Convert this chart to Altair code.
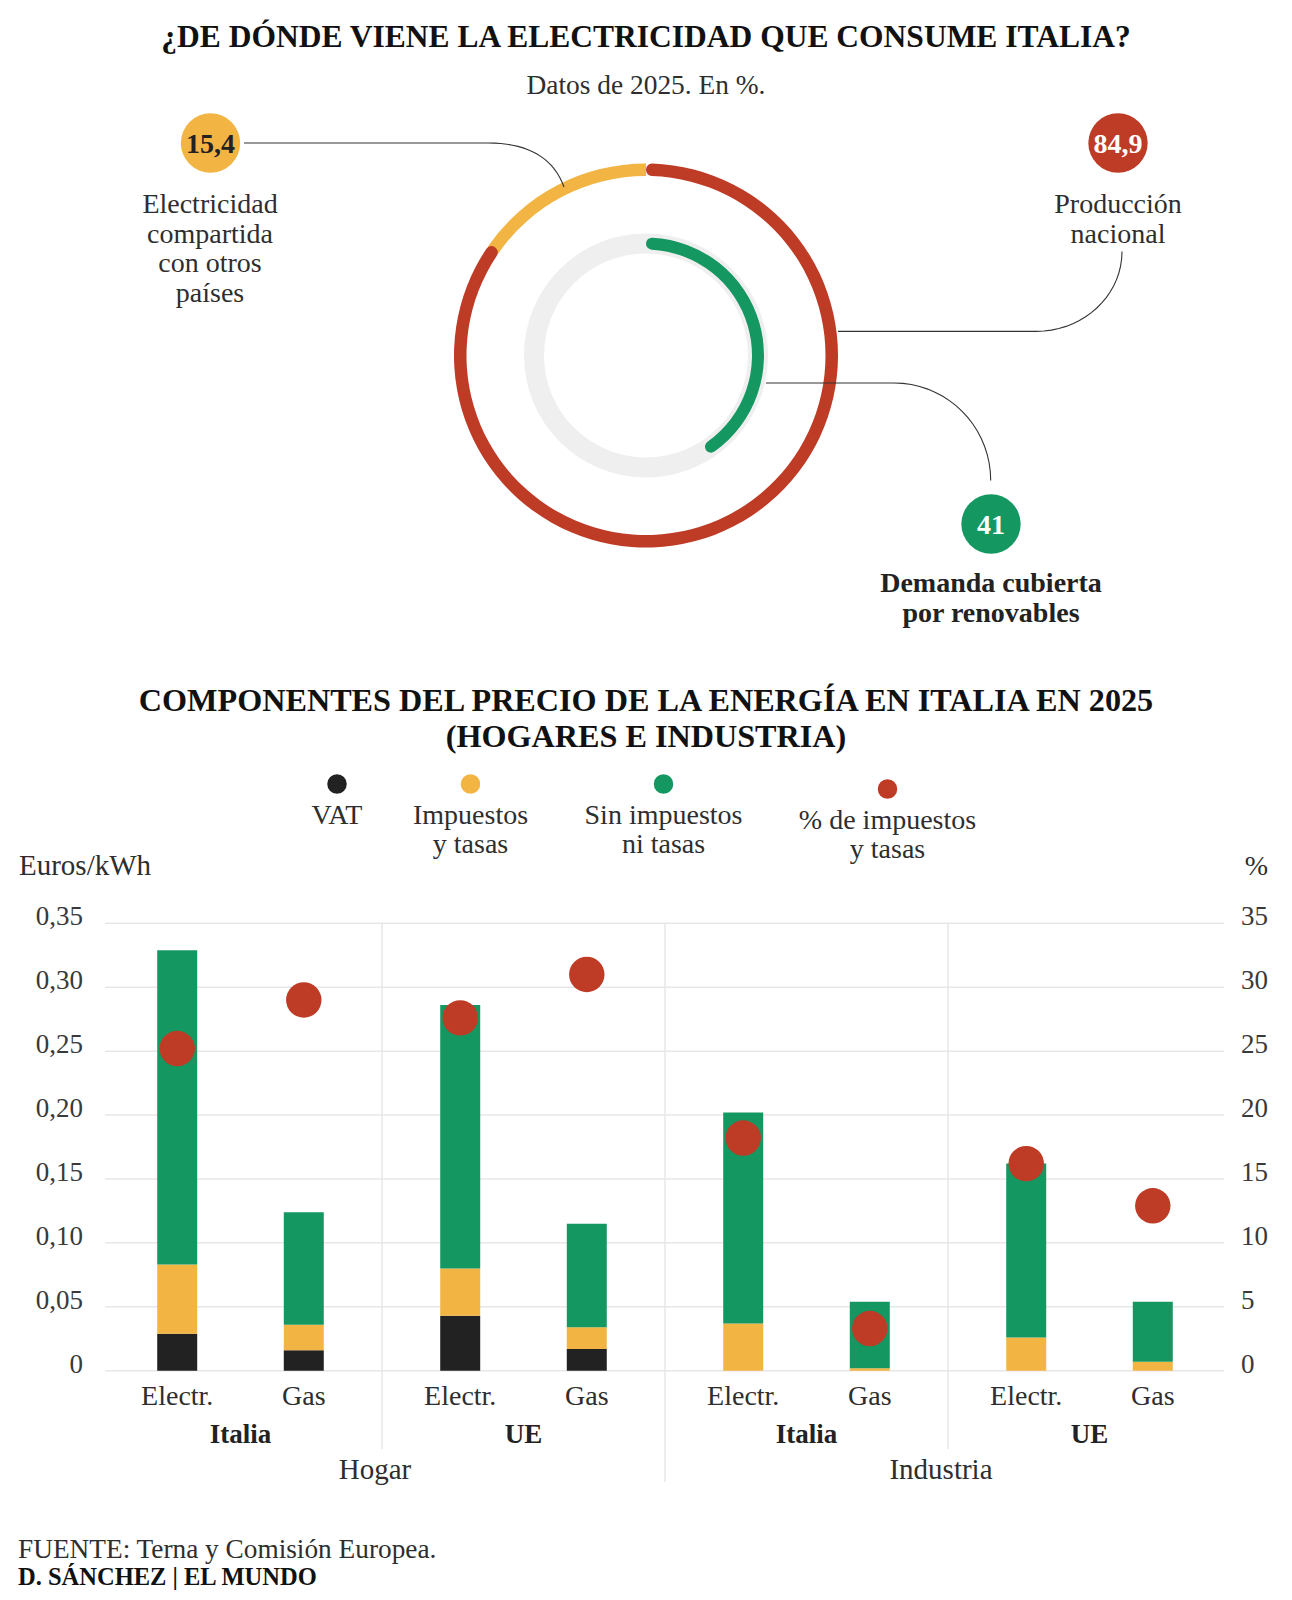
import math
import altair as alt
import pandas as pd

# ------------------------------------------------------------------ data
# Donut (top)
produccion_nacional = 84.9
electricidad_compartida = 15.4
demanda_renovables = 41

# Stacked bars (bottom): order Hogar-Italia, Hogar-UE, Industria-Italia, Industria-UE; each Electr., Gas
sectores = ["Hogar", "Hogar", "Industria", "Industria"]
regiones = ["Italia", "UE", "Italia", "UE"]
tipos = ["Electr.", "Gas"]
vat = [0.029, 0.016, 0.043, 0.017, 0.0, 0.0, 0.0, 0.0]
impuestos_tasas = [0.054, 0.020, 0.037, 0.017, 0.037, 0.002, 0.026, 0.007]
sin_impuestos = [0.246, 0.088, 0.206, 0.081, 0.165, 0.052, 0.136, 0.047]
pct_impuestos = [25.2, 29.0, 27.6, 31.0, 18.2, 3.3, 16.2, 12.9]
ticks_eur = [0, 0.05, 0.10, 0.15, 0.20, 0.25, 0.30, 0.35]
ticks_pct = [0, 5, 10, 15, 20, 25, 30, 35]
componentes = ["VAT", "Impuestos y tasas", "Sin impuestos ni tasas"]
leyenda = ["VAT", "Impuestos\ny tasas", "Sin impuestos\nni tasas", "% de impuestos\ny tasas"]

# ------------------------------------------------------------------ style
FONT = "Liberation Serif"
RED = "#be3b26"
YEL = "#f2b544"
GRN = "#159762"
BLK = "#222222"
GREY = "#efefef"
TXT = "#2e2e2e"
CX, CY = 646, 355.5


def fmt(v, dec=1):
    if float(v).is_integer():
        return str(int(v))
    return f"{v:.{dec}f}".replace(".", ",")


def txt(s, x, y, size=27, bold=False, align="center", color=TXT, lh=None):
    kw = dict(font=FONT, fontSize=size, fontWeight="bold" if bold else "normal",
              align=align, baseline="alphabetic", color=color)
    if "\n" in s:
        kw.update(lineBreak="\n", lineHeight=lh or round(size * 1.08))
    return alt.Chart(pd.DataFrame({"t": [s]})).mark_text(**kw).encode(
        x=alt.value(x), y=alt.value(y), text="t:N")


def ring(t0, t1, r_out, r_in, color, corner=0):
    df = pd.DataFrame({"t0": [t0], "t1": [t1]})
    return alt.Chart(df).mark_arc(radius=r_out, radius2=r_in, cornerRadius=corner,
                                  color=color, opacity=1).encode(
        theta=alt.Theta("t0:Q", scale=alt.Scale(domain=[0, 100]), stack=False),
        theta2="t1:Q", x=alt.value(CX), y=alt.value(CY))


def bubble(v, x, y, color, tcolor, r=33.5):
    df = pd.DataFrame({"t": [fmt(v)]})
    c = alt.Chart(df).mark_circle(size=math.pi * r * r, color=color, opacity=1).encode(
        x=alt.value(x), y=alt.value(y))
    t = alt.Chart(df).mark_text(font=FONT, fontSize=28, fontWeight="bold", color=tcolor,
                                align="center", baseline="alphabetic").encode(
        x=alt.value(x), y=alt.value(y + 9.5), text="t:N")
    return [c, t]


def qbez(p0, c, p1, n=18):
    return [((1 - t) ** 2 * p0[0] + 2 * (1 - t) * t * c[0] + t ** 2 * p1[0],
             (1 - t) ** 2 * p0[1] + 2 * (1 - t) * t * c[1] + t ** 2 * p1[1])
            for t in [i / n for i in range(n + 1)]]


def corner(p0, c, p1, n=18, k=0.552):
    a = (p0[0] + k * (c[0] - p0[0]), p0[1] + k * (c[1] - p0[1]))
    b = (p1[0] + k * (c[0] - p1[0]), p1[1] + k * (c[1] - p1[1]))
    out = []
    for i in range(n + 1):
        t = i / n
        u = 1 - t
        out.append((u ** 3 * p0[0] + 3 * u * u * t * a[0] + 3 * u * t * t * b[0] + t ** 3 * p1[0],
                    u ** 3 * p0[1] + 3 * u * u * t * a[1] + 3 * u * t * t * b[1] + t ** 3 * p1[1]))
    return out


layers = []

# ------------------------------------------------------------------ top: titles
layers.append(txt("¿DE DÓNDE VIENE LA ELECTRICIDAD QUE CONSUME ITALIA?", 646, 46.5, 31.5, True, color="#111"))
layers.append(txt("Datos de 2025. En %.", 646, 94, 27.4))

# rings
layers.append(ring(0, 100, 122, 102, GREY))
layers.append(ring(0, demanda_renovables, 118, 106, GRN, 6))
layers.append(ring(100 - electricidad_compartida, 100, 192, 179.5, YEL))
layers.append(ring(0, produccion_nacional, 192, 179.5, RED, 6))

# connectors (annotation leader lines)
paths = [
    [(244, 143)] + qbez((488, 143), (548, 143), (564, 187)),
    corner((1122, 251.5), (1122, 331.4), (1036, 331.4)) + [(838, 331.4)],
    [(766, 383)] + corner((894, 383), (990.7, 383), (990.7, 480.5)),
]
crow = []
for pid, pth in enumerate(paths):
    for o, (px, py) in enumerate(pth):
        crow.append({"id": pid, "o": o, "px": px, "py": py})
conn = pd.DataFrame(crow)
layers.append(alt.Chart(conn).mark_line(color="#333", strokeWidth=1.1).encode(
    x=alt.X("px:Q", scale=None), y=alt.Y("py:Q", scale=None), detail="id:N", order="o:Q"))

layers += bubble(electricidad_compartida, 210.5, 143, YEL, "#222")
layers += bubble(produccion_nacional, 1118, 143, RED, "white", 33.5)
layers += bubble(demanda_renovables, 991, 524, GRN, "white", 33.5)

layers.append(txt("Electricidad\ncompartida\ncon otros\npaíses", 210, 213, 28, lh=29.7))
layers.append(txt("Producción\nnacional", 1118, 213, 28, lh=29.7))
layers.append(txt("Demanda cubierta\npor renovables", 991, 592.4, 28, True, color="#222", lh=29.5))

# ------------------------------------------------------------------ bottom: titles & legend
layers.append(txt("COMPONENTES DEL PRECIO DE LA ENERGÍA EN ITALIA EN 2025", 646, 710.5, 32.2, True, color="#111"))
layers.append(txt("(HOGARES E INDUSTRIA)", 646, 747, 32.2, True, color="#111"))

leg_x = [337, 470.5, 663.5, 887.5]
leg_cy = [784, 784, 784, 789]
leg_col = [BLK, YEL, GRN, RED]
for lab, lx, ly, lc in zip(leyenda, leg_x, leg_cy, leg_col):
    layers.append(alt.Chart(pd.DataFrame({"t": [lab]})).mark_circle(size=math.pi * 11 * 11, color=lc, opacity=1)
                  .encode(x=alt.value(lx), y=alt.value(ly)))
    layers.append(txt(lab, lx, ly + 39.5, 28, lh=29.5))

layers.append(txt("Euros/kWh", 19, 875, 29, align="left"))
layers.append(txt("%", 1268, 875, 28, align="right"))

# ------------------------------------------------------------------ bottom: chart
grupos = [f"{s}|{r}" for s, r in zip(sectores, regiones)]
rows, pts = [], []
for i, g in enumerate(grupos):
    for j, t in enumerate(tipos):
        k = i * 2 + j
        base = 0.0
        for comp, vals in zip(componentes, [vat, impuestos_tasas, sin_impuestos]):
            rows.append({"grupo": g, "tipo": t, "componente": comp, "y0": base, "y1": base + vals[k]})
            base += vals[k]
        pts.append({"grupo": g, "tipo": t, "pct": pct_impuestos[k]})
df_bars = pd.DataFrame(rows)
df_pts = pd.DataFrame(pts)
df_grp = pd.DataFrame({"grupo": grupos, "region": regiones})

Y0, Y1 = 1370.7, 923.3
GSCALE = dict(domain=grupos, range=[99, 1231], paddingInner=0, paddingOuter=0)
xg = alt.X("grupo:N", scale=alt.Scale(**GSCALE), axis=None)
xo = alt.XOffset("tipo:N", scale=alt.Scale(domain=tipos, paddingInner=0.684, paddingOuter=0.46))
yE = alt.Scale(domain=[0, 0.35], range=[Y0, Y1], nice=False)
yP = alt.Scale(domain=[0, 35], range=[Y0, Y1], nice=False)

# gridlines
df_te = pd.DataFrame({"v": ticks_eur, "lab": [fmt(v, 2) for v in ticks_eur]})
df_tp = pd.DataFrame({"v": ticks_pct, "lab": [fmt(v) for v in ticks_pct]})
layers.append(alt.Chart(df_te).mark_rule(color="#e7e7e7", strokeWidth=1.5).encode(
    y=alt.Y("v:Q", scale=yE, axis=None), x=alt.value(105), x2=alt.value(1224)))
# separators
layers.append(alt.Chart(df_grp.iloc[[1, 3]]).mark_rule(color="#e7e7e7", strokeWidth=1.5).encode(
    x=alt.X("grupo:N", scale=alt.Scale(**GSCALE), axis=None, bandPosition=0),
    y=alt.value(Y1), y2=alt.value(1449)))
layers.append(alt.Chart(df_grp.iloc[[2]]).mark_rule(color="#e7e7e7", strokeWidth=1.5).encode(
    x=alt.X("grupo:N", scale=alt.Scale(**GSCALE), axis=None, bandPosition=0),
    y=alt.value(Y1), y2=alt.value(1482)))

# tick labels
layers.append(alt.Chart(df_te).mark_text(font=FONT, fontSize=27, align="right", baseline="alphabetic",
                                         color="#3a3a3a", dy=2).encode(
    y=alt.Y("v:Q", scale=yE, axis=None), x=alt.value(83), text="lab:N"))
layers.append(alt.Chart(df_tp).mark_text(font=FONT, fontSize=27, align="left", baseline="alphabetic",
                                         color="#3a3a3a", dy=2).encode(
    y=alt.Y("v:Q", scale=yP, axis=None), x=alt.value(1241), text="lab:N"))

# bars
layers.append(alt.Chart(df_bars).mark_bar().encode(
    x=xg, xOffset=xo,
    y=alt.Y("y0:Q", scale=yE, axis=None), y2="y1:Q",
    color=alt.Color("componente:N", scale=alt.Scale(domain=componentes, range=[BLK, YEL, GRN]), legend=None)))
# % dots
layers.append(alt.Chart(df_pts).mark_circle(size=math.pi * 20 * 20, color=RED, opacity=1).encode(
    x=xg, xOffset=xo, y=alt.Y("pct:Q", scale=yP, axis=None)))

# category labels
layers.append(alt.Chart(df_pts).mark_text(font=FONT, fontSize=28, color=TXT, baseline="alphabetic").encode(
    x=xg, xOffset=xo, y=alt.value(1405), text="tipo:N"))
layers.append(alt.Chart(df_grp).mark_text(font=FONT, fontSize=27, fontWeight="bold", color="#222",
                                          baseline="alphabetic").encode(
    x=xg, y=alt.value(1443), text="region:N"))
df_sec = pd.DataFrame({"sector": ["Hogar", "Industria"]})
layers.append(alt.Chart(df_sec).mark_text(font=FONT, fontSize=29, color=TXT, baseline="alphabetic", dx=-7).encode(
    x=alt.X("sector:N", scale=alt.Scale(domain=["Hogar", "Industria"], range=[99, 1231],
                                        paddingInner=0, paddingOuter=0), axis=None),
    y=alt.value(1479), text="sector:N"))

# footer
layers.append(txt("FUENTE: Terna y Comisión Europea.", 18, 1558, 27.3, align="left"))
layers.append(txt("D. SÁNCHEZ | EL MUNDO", 18, 1585, 24.5, True, align="left", color="#111"))

chart = alt.layer(*layers).resolve_scale(x="independent", y="independent").properties(
    width=1292, height=1600, autosize=alt.AutoSizeParams(type="none"), padding=0, background="white"
).configure_view(strokeWidth=0)

chart.save("out.html", embed_options={"renderer": "svg", "actions": False})
